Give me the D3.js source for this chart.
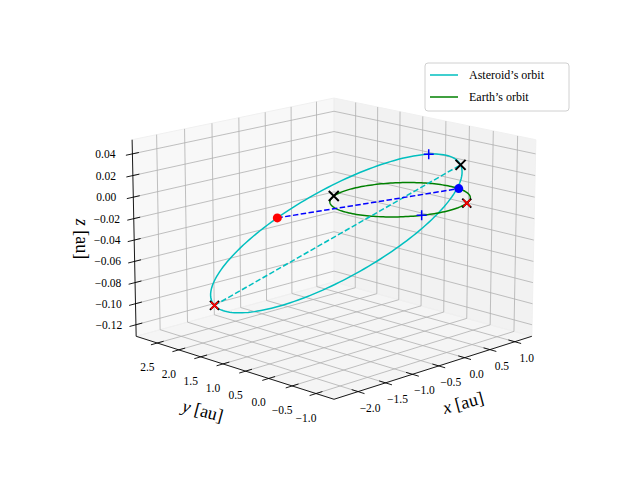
<!DOCTYPE html>
<html>
<head>
<meta charset="utf-8">
<script src="https://cdn.jsdelivr.net/npm/d3@7"></script>
<style>
  body { margin: 0; background: #fff; }
  svg text { font-family: "Liberation Serif", "DejaVu Serif", serif; }
</style>
</head>
<body>
<div id="chart"></div>
<script>
// axis limits and ticks
const xLim = [-2.43, 1.35];
const yLim = [-1.37, 3.0];
const zLim = [-0.131, 0.053];
const xTicks = [-2.0, -1.5, -1.0, -0.5, 0.0, 0.5, 1.0];
const yTicks = [2.5, 2.0, 1.5, 1.0, 0.5, 0.0, -0.5, -1.0];
const zTicks = [0.04, 0.02, 0.00, -0.02, -0.04, -0.06, -0.08, -0.10, -0.12];

// Earth's orbit: radius 1 au in the ecliptic
const earthRadius = 1.0;
// asteroid orbit: aphelion vector, perihelion distance, unit direction of the minor axis
const asteroidAphelion = [-1.597, 2.234, -0.104];
const asteroidPerihelionDist = 0.87;
const asteroidMinorDir = [0.813, 0.581, -0.039];

// markers: angle on Earth's orbit (deg), eccentric anomaly on asteroid orbit (deg, 0 = aphelion)
const earthDot = -10;       // blue dot
const earthCrossRed = -62;  // red/black x
const earthCrossBlack = 120;
const earthPlus = -115;
const asteroidDot = -75;    // red dot
const asteroidPlus = -147;
const asteroidCrossBlack = 180; // perihelion
const asteroidCrossRed = 0;     // aphelion

const width = 640, height = 480;
const svg = d3.select("#chart").append("svg").attr("width", width).attr("height", height);

// box coordinates (matplotlib box aspect 4:4:3)
const bx = d3.scaleLinear().domain(xLim).range([-1, 1]);
const by = d3.scaleLinear().domain(yLim).range([-1, 1]);
const bz = d3.scaleLinear().domain(zLim).range([-0.72, 0.72]);

// simple pinhole camera
const elev = 15 * Math.PI / 180, gam = 45 * Math.PI / 180;
const f = 2600, D = 18.4, cx = 334, cy = 239;
const F = [Math.cos(elev) * Math.cos(gam), Math.cos(elev) * Math.sin(gam), -Math.sin(elev)];
const R = [Math.sin(gam), -Math.cos(gam), 0];
const U = [Math.sin(elev) * Math.cos(gam), Math.sin(elev) * Math.sin(gam), Math.cos(elev)];
const E = F.map(v => -v * D);
const dot3 = (a, b) => a[0] * b[0] + a[1] * b[1] + a[2] * b[2];

function proj(p) {
  const q = [bx(p[0]), by(p[1]), bz(p[2])];
  const v = [q[0] - E[0], q[1] - E[1], q[2] - E[2]];
  const d = dot3(v, F);
  return [cx + f * dot3(v, R) / d, cy - f * dot3(v, U) / d];
}
const line = d3.line().x(d => proj(d)[0]).y(d => proj(d)[1]);

// panes
const [x0, x1] = xLim, [y0, y1] = yLim, [z0, z1] = zLim;
const panes = [
  { pts: [[x0, y1, z0], [x1, y1, z0], [x1, y1, z1], [x0, y1, z1]], c: "rgba(242,242,242,0.5)" },
  { pts: [[x1, y0, z0], [x1, y1, z0], [x1, y1, z1], [x1, y0, z1]], c: "rgba(230,230,230,0.5)" },
  { pts: [[x0, y0, z0], [x1, y0, z0], [x1, y1, z0], [x0, y1, z0]], c: "rgba(236,236,236,0.5)" }
];
svg.append("g").selectAll("path").data(panes).join("path")
  .attr("d", d => line(d.pts) + "Z").attr("fill", d => d.c).attr("stroke", "#f0f0f0");

// grid
const grid = [];
xTicks.forEach(t => { grid.push([[t, y1, z0], [t, y1, z1]]); grid.push([[t, y0, z0], [t, y1, z0]]); });
yTicks.forEach(t => { grid.push([[x1, t, z0], [x1, t, z1]]); grid.push([[x0, t, z0], [x1, t, z0]]); });
zTicks.forEach(t => { grid.push([[x0, y1, t], [x1, y1, t]]); grid.push([[x1, y0, t], [x1, y1, t]]); });
svg.append("g").selectAll("path").data(grid).join("path")
  .attr("d", line).attr("stroke", "#b0b0b0").attr("stroke-width", 0.8).attr("fill", "none");

// axis lines
const axes = [[[x0, y0, z0], [x1, y0, z0]], [[x0, y0, z0], [x0, y1, z0]], [[x0, y1, z0], [x0, y1, z1]]];
svg.append("g").selectAll("path").data(axes).join("path")
  .attr("d", line).attr("stroke", "black").attr("stroke-width", 0.9).attr("fill", "none");

// tick marks
const tk = [];
xTicks.forEach(t => tk.push([[t, y0 + 0.03 * (y1 - y0), z0], [t, y0 - 0.03 * (y1 - y0), z0]]));
yTicks.forEach(t => tk.push([[x0 + 0.03 * (x1 - x0), t, z0], [x0 - 0.03 * (x1 - x0), t, z0]]));
zTicks.forEach(t => tk.push([[x0 + 0.03 * (x1 - x0), y1, t], [x0 - 0.03 * (x1 - x0), y1, t]]));
svg.append("g").selectAll("path").data(tk).join("path")
  .attr("d", line).attr("stroke", "black").attr("stroke-width", 0.9);

const fmt = d3.format(".1f"), fmtz = d3.format(".2f");
const minus = s => s.replace("-", "\u2212");
svg.append("g").selectAll("text").data(xTicks).join("text")
  .attr("x", d => proj([d, y0, z0])[0] + 12).attr("y", d => proj([d, y0, z0])[1] + 20)
  .attr("text-anchor", "middle").attr("font-size", 11.5).text(d => minus(fmt(d)));
svg.append("g").selectAll("text").data(yTicks).join("text")
  .attr("x", d => proj([x0, d, z0])[0] - 10).attr("y", d => proj([x0, d, z0])[1] + 28)
  .attr("text-anchor", "middle").attr("font-size", 11.5).text(d => minus(fmt(d)));
svg.append("g").selectAll("text").data(zTicks).join("text")
  .attr("x", d => proj([x0, y1, d])[0] - 27).attr("y", d => proj([x0, y1, d])[1] + 4)
  .attr("text-anchor", "middle").attr("font-size", 11.5).text(d => minus(fmtz(d)));

// axis labels
function axisLabel(p, dx, dy, rot, name) {
  const s = proj(p);
  const t = svg.append("text").attr("font-size", 18).attr("text-anchor", "middle")
    .attr("transform", `translate(${s[0] + dx},${s[1] + dy}) rotate(${rot})`);
  t.append("tspan").attr("font-style", "italic").text(name);
  t.append("tspan").text(" [au]");
}
axisLabel([(x0 + x1) / 2, y0, z0], 28, 42, -15, "x");
axisLabel([x0, (y0 + y1) / 2, z0], -30, 50, 15, "y");
axisLabel([x0, y1, (z0 + z1) / 2], -58, 0, 90, "z");

// orbits
const deg = Math.PI / 180;
const earthAt = a => [earthRadius * Math.cos(a * deg), earthRadius * Math.sin(a * deg), 0];
const rA = Math.hypot(...asteroidAphelion);
const aAx = (rA + asteroidPerihelionDist) / 2;
const ecc = (rA - asteroidPerihelionDist) / (rA + asteroidPerihelionDist);
const bAx = aAx * Math.sqrt(1 - ecc * ecc);
const u1 = asteroidAphelion.map(v => v / rA);
const mn = Math.hypot(...asteroidMinorDir);
const m1 = asteroidMinorDir.map(v => v / mn);
const centre = u1.map(v => v * (rA - aAx));
const astAt = a => centre.map((c, i) => c + aAx * Math.cos(a * deg) * u1[i] + bAx * Math.sin(a * deg) * m1[i]);

const angles = d3.range(0, 361, 2);
svg.append("path").attr("d", line(angles.map(astAt))).attr("fill", "none")
  .attr("stroke", "#00bfbf").attr("stroke-width", 1.5);
svg.append("path").attr("d", line(angles.map(earthAt))).attr("fill", "none")
  .attr("stroke", "green").attr("stroke-width", 1.5);

// line of apsides and transfer line
svg.append("path").attr("d", line([astAt(asteroidCrossRed), astAt(asteroidCrossBlack)]))
  .attr("stroke", "#00bfbf").attr("stroke-width", 1.5).attr("stroke-dasharray", "5.5,2.4");
svg.append("path").attr("d", line([astAt(asteroidDot), earthAt(earthDot)]))
  .attr("stroke", "blue").attr("stroke-width", 1.5).attr("stroke-dasharray", "5.5,2.4");

// markers
function cross(p, col, r, w) {
  const s = proj(p);
  svg.append("path").attr("d", `M${s[0] - r},${s[1] - r}L${s[0] + r},${s[1] + r}M${s[0] - r},${s[1] + r}L${s[0] + r},${s[1] - r}`)
    .attr("stroke", col).attr("stroke-width", w);
}
function plus(p, col, r) {
  const s = proj(p);
  svg.append("path").attr("d", `M${s[0] - r},${s[1]}L${s[0] + r},${s[1]}M${s[0]},${s[1] - r}L${s[0]},${s[1] + r}`)
    .attr("stroke", col).attr("stroke-width", 1.5);
}
function dotm(p, col) {
  const s = proj(p);
  svg.append("circle").attr("cx", s[0]).attr("cy", s[1]).attr("r", 4.5).attr("fill", col);
}
cross(astAt(asteroidCrossRed), "black", 4.5, 2);
cross(astAt(asteroidCrossRed), "red", 3.5, 1.5);
cross(earthAt(earthCrossRed), "black", 4.5, 2);
cross(earthAt(earthCrossRed), "red", 3.5, 1.5);
cross(astAt(asteroidCrossBlack), "black", 5, 2);
cross(earthAt(earthCrossBlack), "black", 5, 2);
plus(astAt(asteroidPlus), "blue", 5);
plus(earthAt(earthPlus), "blue", 5);
dotm(astAt(asteroidDot), "red");
dotm(earthAt(earthDot), "blue");

// legend
const lg = svg.append("g").attr("transform", "translate(425,63)");
lg.append("rect").attr("width", 144).attr("height", 48).attr("rx", 3)
  .attr("fill", "white").attr("fill-opacity", 0.8).attr("stroke", "#d0d0d0");
const legendItems = [["Asteroid\u2019s orbit", "#00bfbf"], ["Earth\u2019s orbit", "green"]];
legendItems.forEach((d, i) => {
  lg.append("line").attr("x1", 5).attr("x2", 33).attr("y1", 12 + i * 22).attr("y2", 12 + i * 22)
    .attr("stroke", d[1]).attr("stroke-width", 1.5);
  lg.append("text").attr("x", 44).attr("y", 16 + i * 22).attr("font-size", 12).text(d[0]);
});
</script>
</body>
</html>
